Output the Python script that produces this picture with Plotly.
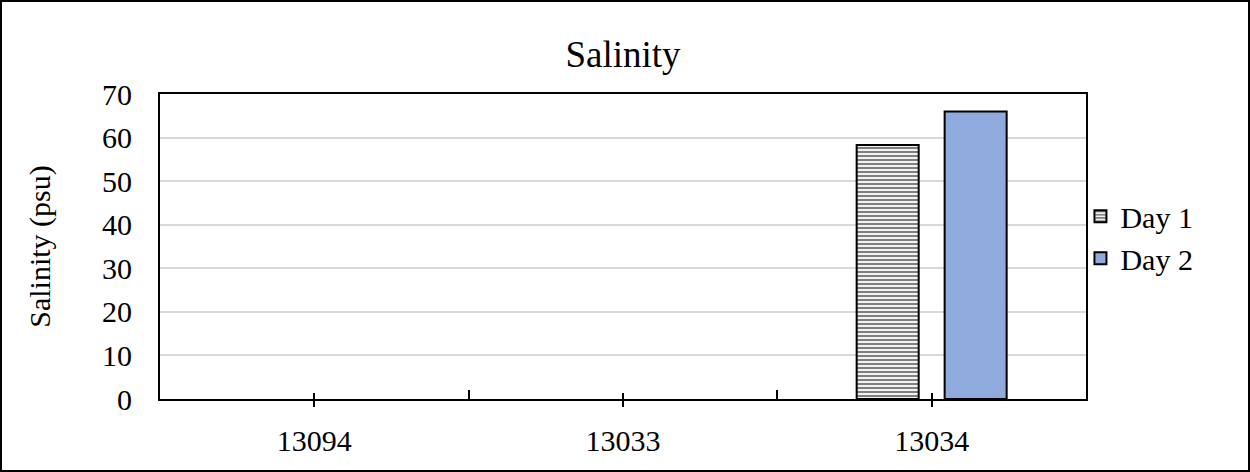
import plotly.graph_objects as go

stations = ["13094", "13033", "13034"]
day1 = [None, None, 58.3]
day2 = [None, None, 66.0]
y_ticks = [0, 10, 20, 30, 40, 50, 60, 70]

W, H = 1250, 472
ML, MR, MT, MB = 160, 164, 94, 73
pw, ph = W - ML - MR, H - MT - MB
FONT = "Liberation Serif"

fig = go.Figure()
fig.add_trace(go.Bar(
    x=stations, y=day1, name="Day 1",
    marker=dict(color="white", line=dict(color="black", width=2),
                pattern=dict(shape="-", fgcolor="black", bgcolor="white",
                             size=4, solidity=0.55)),
))
fig.add_trace(go.Bar(
    x=stations, y=day2, name="Day 2",
    marker=dict(color="#8FAADC", line=dict(color="black", width=2)),
))
# helper traces so the overlay axes get their category ticks
for ax in ["x2", "x3"]:
    fig.add_trace(go.Scatter(x=stations, y=[None] * len(stations), xaxis=ax,
                             showlegend=False, hoverinfo="skip", mode="markers"))

rng = [-0.5, len(stations) - 0.5]
fig.update_layout(
    width=W, height=H,
    margin=dict(l=ML, r=MR, t=MT, b=MB, autoexpand=False),
    paper_bgcolor="white", plot_bgcolor="white",
    font=dict(family=FONT, size=30, color="black"),
    title=dict(text="Salinity", x=(ML + pw / 2) / W, xanchor="center",
               y=1 - 54 / H, yanchor="middle", font=dict(size=37)),
    barmode="group", bargap=0.43, bargroupgap=0.295,
    showlegend=True,
    legend=dict(x=0.994, xanchor="left", y=0.53, yanchor="middle",
                font=dict(size=30), itemwidth=30, tracegroupgap=0,
                bgcolor="rgba(0,0,0,0)"),
    xaxis=dict(type="category", categoryorder="array", categoryarray=stations,
               range=rng, showline=True, linecolor="black", linewidth=2,
               mirror=True, ticks="outside", ticklen=6, tickwidth=1.5,
               tickcolor="black", ticklabelstandoff=8, showgrid=False,
               automargin=False),
    xaxis2=dict(type="category", categoryorder="array", categoryarray=stations,
                range=rng, overlaying="x", anchor="y", side="bottom",
                tickson="boundaries", ticks="inside", ticklen=9, tickwidth=1.5,
                tickcolor="black", showticklabels=False, showgrid=False,
                showline=False, automargin=False),
    xaxis3=dict(type="category", categoryorder="array", categoryarray=stations,
                range=rng, overlaying="x", anchor="y", side="bottom",
                ticks="inside", ticklen=6, tickwidth=1.5,
                tickcolor="black", showticklabels=False, showgrid=False,
                showline=False, automargin=False),
    yaxis=dict(range=[0, 70], tickvals=y_ticks, showline=True, linecolor="black",
               linewidth=2, mirror=True, ticks="", ticklabelstandoff=20,
               gridcolor="#D9D9D9", gridwidth=1.5, zeroline=False,
               automargin=False,
               title=dict(text="Salinity (psu)", standoff=43, font=dict(size=30))),
    shapes=[dict(type="rect", xref="paper", yref="paper",
                 x0=-(ML - 1) / pw, x1=1 + (MR - 1) / pw,
                 y0=-(MB - 1) / ph, y1=1 + (MT - 1) / ph,
                 line=dict(color="black", width=2), layer="below")],
)

fig.write_html("out.html", config={"displayModeBar": False},
               post_script="document.body.style.margin='0';document.body.style.overflow='hidden';")
